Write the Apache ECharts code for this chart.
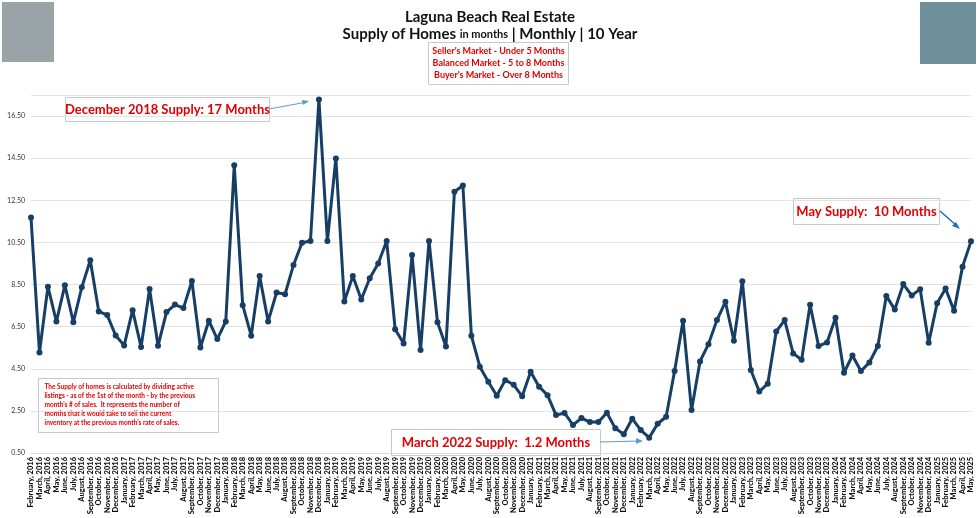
<!DOCTYPE html>
<html>
<head>
<meta charset="utf-8">
<script src="https://cdn.jsdelivr.net/npm/echarts@6/dist/echarts.min.js"></script>
<style>html,body{margin:0;padding:0;background:#fff}#main{width:980px;height:518px}</style>
</head>
<body>
<div id="main"></div>
<script>
var months = ['January', 'February', 'March', 'April', 'May', 'June', 'July', 'August', 'September', 'October', 'November', 'December'];
var categories = [];
for (var y = 2016; y <= 2025; y++) {
    for (var m = 0; m < 12; m++) {
        if (y == 2016 && m < 1) continue;
        if (y == 2025 && m > 4) continue;
        categories.push(months[m] + ', ' + y);
    }
}
var supply = [
    11.68, 5.27, 8.4, 6.74, 8.47, 6.71, 8.37, 9.65, 7.22, 7.05, 6.08,
    5.61, 7.28, 5.53, 8.29, 5.59, 7.19, 7.55, 7.38, 8.67, 5.51, 6.78, 5.91,
    6.75, 14.16, 7.52, 6.07, 8.9, 6.75, 8.12, 8.04, 9.43, 10.48, 10.57, 17.29,
    10.57, 14.49, 7.69, 8.9, 7.79, 8.8, 9.5, 10.57, 6.38, 5.7, 9.9, 5.39,
    10.57, 6.71, 5.56, 12.91, 13.2, 6.07, 4.6, 3.88, 3.22, 3.96, 3.74, 3.19,
    4.36, 3.65, 3.24, 2.3, 2.4, 1.83, 2.16, 1.97, 1.97, 2.41, 1.67, 1.39,
    2.13, 1.59, 1.23, 1.89, 2.22, 4.39, 6.78, 2.54, 4.85, 5.67, 6.81, 7.68,
    5.83, 8.66, 4.44, 3.42, 3.79, 6.27, 6.81, 5.23, 4.93, 7.54, 5.58, 5.75,
    6.92, 4.31, 5.13, 4.39, 4.8, 5.58, 7.96, 7.31, 8.52, 7.98, 8.28,
    5.73, 7.61, 8.31, 7.25, 9.35, 10.55
];
var marketNotes = ["Seller's Market - Under 5 Months", 'Balanced Market - 5 to 8 Months', "Buyer's Market - Over 8 Months"];

var font = 'Lato';
var red = '#e00000';
function noteBox(left, top, w, h, text, size) {
    return {
        type: 'group', left: left, top: top,
        children: [
            { type: 'rect', shape: { x: 0, y: 0, width: w, height: h }, style: { fill: '#fff', stroke: '#c8c8c8', lineWidth: 1 } },
            { type: 'text', x: w / 2, y: h / 2, style: { text: text, fill: red, font: 'bold ' + size + 'px ' + font, textAlign: 'center', textVerticalAlign: 'middle' } }
        ]
    };
}

var chart = echarts.init(document.getElementById('main'));
var option = {
    backgroundColor: '#fff',
    animation: false,
    title: [{
        text: 'Laguna Beach Real Estate',
        left: 'center', top: 5,
        textStyle: { fontFamily: font, fontSize: 15, fontWeight: 'bold', color: '#111' }
    }, {
        text: '{a|Supply of Homes }{b|in months}{a| | Monthly | 10 Year}',
        left: 'center', top: 22,
        textStyle: { rich: { a: { fontFamily: font, fontSize: 15, fontWeight: 'bold', color: '#111' }, b: { fontFamily: font, fontSize: 11, fontWeight: 'bold', color: '#111' } } }
    }],
    grid: { left: 31, right: 9, top: 95, bottom: 65 },
    xAxis: {
        type: 'category',
        data: categories,
        boundaryGap: false,
        axisLine: { lineStyle: { color: '#d9d9d9' } },
        axisTick: { show: false },
        axisLabel: { interval: 0, rotate: 90, fontFamily: font, fontSize: 7.5, fontWeight: 900, color: '#111', margin: 4 }
    },
    yAxis: {
        type: 'value',
        min: 0.5, max: 17.5, interval: 2,
        axisLine: { show: false },
        axisTick: { show: false },
        splitLine: { lineStyle: { color: '#e3e3e3', width: 1 } },
        axisLabel: { showMaxLabel: false, fontFamily: font, fontSize: 7, color: '#333', margin: 6, formatter: function (v) { return v.toFixed(2); } }
    },
    series: [{
        type: 'line',
        data: supply,
        symbol: 'circle',
        symbolSize: 6,
        lineStyle: { color: '#173f66', width: 3 },
        itemStyle: { color: '#173f66' }
    }],
    graphic: [
        { type: 'rect', left: 2, top: 2, shape: { width: 52, height: 60 }, style: { fill: '#9aa3a6' } },
        { type: 'rect', left: 920, top: 2, shape: { width: 56, height: 62 }, style: { fill: '#6f8f9a' } },
        { type: 'group', left: 428, top: 42, children: [
            { type: 'rect', shape: { x: 0, y: 0, width: 140, height: 42 }, style: { fill: '#fff', stroke: '#c8c8c8', lineWidth: 1 } },
            { type: 'text', x: 70, y: 4, style: { text: marketNotes[0], fill: red, font: 'bold 9px ' + font, textAlign: 'center' } },
            { type: 'text', x: 70, y: 16, style: { text: marketNotes[1], fill: red, font: 'bold 9px ' + font, textAlign: 'center' } },
            { type: 'text', x: 70, y: 28, style: { text: marketNotes[2], fill: red, font: 'bold 9px ' + font, textAlign: 'center' } }
        ] },
        noteBox(65, 97, 204, 24, 'December 2018 Supply: 17 Months', 13),
        noteBox(793, 198, 146, 26, 'May Supply:  10 Months', 13),
        noteBox(391, 429, 209, 26, 'March 2022 Supply:  1.2 Months', 13),
        { type: 'line', shape: { x1: 269, y1: 109, x2: 307, y2: 102 }, style: { stroke: '#5b9bd5', lineWidth: 1 } },
        { type: 'polygon', shape: { points: [[309, 101], [302, 100], [303, 105]] }, style: { fill: '#5b9bd5' } },
        { type: 'line', shape: { x1: 600, y1: 442, x2: 640, y2: 441 }, style: { stroke: '#5b9bd5', lineWidth: 1 } },
        { type: 'polygon', shape: { points: [[643, 441], [636, 438], [636, 444]] }, style: { fill: '#5b9bd5' } },
        { type: 'line', shape: { x1: 940, y1: 211, x2: 957, y2: 226 }, style: { stroke: '#1f6fbf', lineWidth: 1.5 } },
        { type: 'polygon', shape: { points: [[960, 229], [952, 226], [956, 222]] }, style: { fill: '#1f6fbf' } },
        { type: 'group', left: 38, top: 378, children: [
            { type: 'rect', shape: { x: 0, y: 0, width: 180, height: 54 }, style: { fill: '#fff', stroke: '#c8c8c8', lineWidth: 1 } },
            { type: 'text', x: 6, y: 4, style: { text: 'The Supply of homes is calculated by dividing active\nlistings - as of the 1st of the month - by the previous\nmonth\'s # of sales.  It represents the number of\nmonths that it would take to sell the current\ninventory at the previous month\'s rate of sales.', fill: red, font: 'bold 6.5px ' + font, lineHeight: 9 } }
        ] }
    ]
};
chart.setOption(option);
</script>
</body>
</html>
